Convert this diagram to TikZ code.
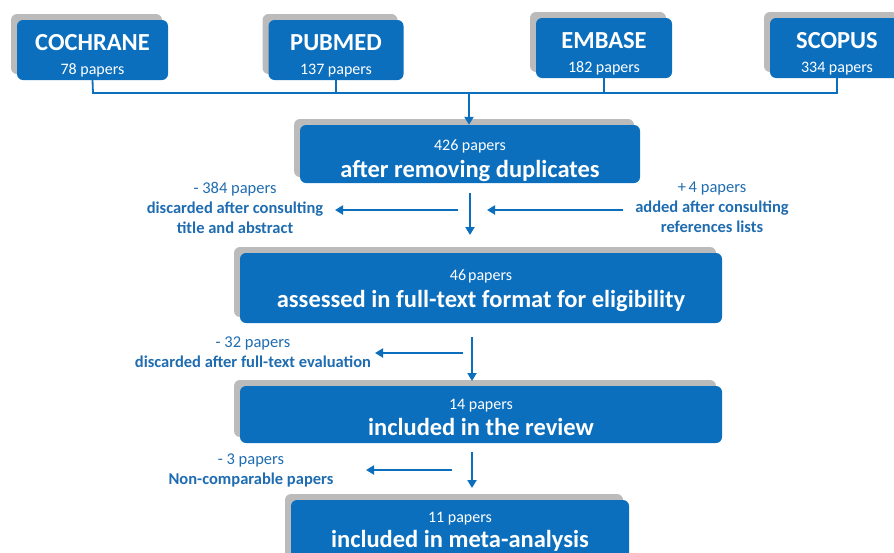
\documentclass[tikz,border=0pt]{standalone}
\usepackage{fontspec}
\setmainfont{Carlito}
\usetikzlibrary{shadows,arrows.meta}
\definecolor{myblue}{HTML}{0B6FBE}
\definecolor{labblue}{HTML}{1F6CB0}
\definecolor{shgray}{HTML}{BBBBBB}
\newcommand{\bigt}[1]{{\bfseries\fontsize{24.5}{26}\selectfont #1}}
\newcommand{\upper}[1]{\rule{0pt}{#1}}
\tikzset{
  box/.style={rounded corners=6pt, fill=myblue, text=white, align=center, inner sep=0pt,
    general shadow={fill=shgray, shadow xshift=-6pt, shadow yshift=6pt}},
  dbbox/.style={box, font=\fontsize{16}{24}\selectfont},
  mainbox/.style={box, font=\fontsize{16}{26.5}\selectfont},
  sidelab/.style={text=labblue, align=center, font=\fontsize{16.5}{20}\selectfont, inner sep=0pt},
  conn/.style={draw=myblue, line width=1.8pt},
  arr/.style={draw=myblue, line width=2.4pt, -{Triangle[length=8pt,width=9pt]}},
}
\begin{document}
\begin{tikzpicture}[x=1pt,y=-1pt]
\useasboundingbox (0,0) rectangle (894,552);
\clip (0,0) rectangle (894,552);
% database boxes
\node[dbbox, minimum width=151pt, minimum height=60pt] (coch) at (92.5,50)
  {\upper{28pt}\bigt{COCHRANE}\\78 papers};
\node[dbbox, minimum width=135pt, minimum height=60pt] (pub) at (336,50)
  {\upper{28pt}\bigt{PUBMED}\\137 papers};
\node[dbbox, minimum width=136pt, minimum height=60pt] (emb) at (604,48)
  {\upper{28pt}\bigt{EMBASE}\\182 papers};
\node[dbbox, minimum width=134pt, minimum height=60pt] (sco) at (837,48)
  {\upper{28pt}\bigt{SCOPUS}\\334 papers};
% joining line
\coordinate (jl) at (93,93);
\coordinate (jr) at (837,93);
\coordinate (jm) at (469,93);
\draw[conn] (coch.south) -- (jl) -- (jr) -- (sco.south);
\draw[conn] (pub.south) -- (pub.south |- jl);
\draw[conn] (emb.south) -- (emb.south |- jl);
% 426 box
\node[mainbox, minimum width=340pt, minimum height=58pt] (dup) at (470,154)
  {\upper{24pt}426 papers\\\bigt{after removing duplicates}};
\draw[arr] (jm) -- (jm |- dup.north);
% 46 box
\node[mainbox, minimum width=482pt, minimum height=70pt] (full) at (481,288)
  {\upper{16pt}46\hspace{2pt}papers\\\bigt{assessed in full-text format for eligibility}};
\coordinate (a1s) at (470,193);
\coordinate (a1e) at (470,235);
\draw[arr] (a1s) -- (a1e);
\coordinate (l1s) at (458,210);
\coordinate (l1e) at (335,210);
\draw[arr] (l1s) -- (l1e);
\coordinate (r1s) at (623,210);
\coordinate (r1e) at (487,210);
\draw[arr] (r1s) -- (r1e);
\node[sidelab] (lab1) at (235,208)
  {- 384 papers\\\textbf{discarded after consulting}\\\textbf{title and abstract}};
\node[sidelab] (lab2) at (712,207)
  {+\,4 papers\\\textbf{added after consulting}\\\textbf{references lists}};
% 14 box
\node[mainbox, minimum width=482pt, minimum height=57pt] (rev) at (481,414.5)
  {\upper{16pt}14 papers\\\bigt{included in the review}};
\coordinate (a2s) at (472,337);
\coordinate (a2e) at (472,381);
\draw[arr] (a2s) -- (a2e);
\coordinate (l2s) at (463,353);
\coordinate (l2e) at (375,353);
\draw[arr] (l2s) -- (l2e);
\node[sidelab] (lab3) at (253,352) {- 32 papers\\\textbf{discarded after full-text evaluation}};
% 11 box
\node[box, minimum width=338pt, minimum height=80pt] (meta) at (460,540) {};
\node[text=white, align=center, inner sep=0pt, font=\fontsize{16}{25}\selectfont] (metatext) at (460,532)
  {11 papers\\\bigt{included in meta-analysis}};
\coordinate (a3s) at (472,452);
\coordinate (a3e) at (472,488);
\draw[arr] (a3s) -- (a3e);
\coordinate (l3s) at (452,470);
\coordinate (l3e) at (366,470);
\draw[arr] (l3s) -- (l3e);
\node[sidelab] (lab4) at (251,470) {- 3 papers\\\textbf{Non-comparable papers}};
\end{tikzpicture}
\end{document}
